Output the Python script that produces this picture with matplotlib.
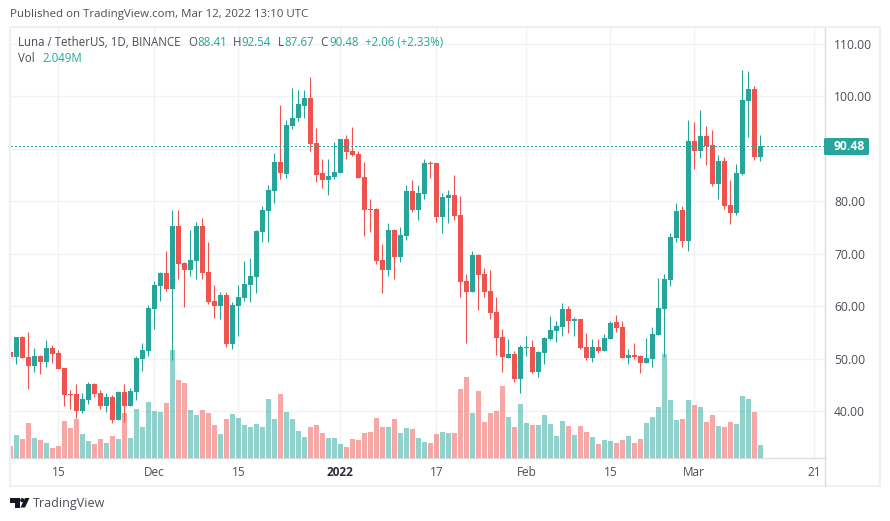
import numpy as np
import pandas as pd
import matplotlib
matplotlib.use("Agg")
import matplotlib.pyplot as plt
from matplotlib.patches import Rectangle, Polygon, Circle, FancyBboxPatch

UP = '#26a69a'
DOWN = '#ef5350'
TXT = '#4a4e57'
GRID = '#f1f2f5'
AXLINE = '#dcdcde'
FRAME = '#eff0f5'

plt.rcParams['font.family'] = ['Open Sans', 'DejaVu Sans']

# open, high, low, close, volume (M) - daily LUNA/USDT
rows = [
(51.3,52.6,49.9,50.3,1.89),(50.35,54.2,49.0,54.16,3.62),(54.16,54.35,50.1,50.16,2.99),(50.35,55.1,44.25,48.6,5.51),
(48.6,52.06,47.5,50.5,3.15),(50.5,50.7,47.1,49.4,2.84),(49.4,53.6,48.4,52.06,2.36),(52.06,52.6,49.2,50.9,1.58),
(51.1,51.7,48.06,48.06,1.89),(48.25,48.25,41.0,43.1,5.83),(43.3,44.06,40.4,43.1,4.73),(43.3,45.2,38.7,40.06,6.14),
(40.06,43.5,39.7,42.35,3.78),(42.16,45.6,41.4,45.2,2.68),(45.2,45.4,42.7,43.3,2.21),(43.5,44.06,40.4,41.0,2.99),
(41.0,43.5,39.9,42.7,2.36),(42.7,43.1,37.8,38.35,3.47),(38.35,43.9,38.35,43.7,2.99),(43.7,45.2,38.0,41.0,7.09),
(41.0,44.4,41.0,43.9,3.15),(43.7,50.5,42.16,50.16,7.72),(50.0,53.0,47.7,51.7,4.88),(51.5,60.25,50.5,59.7,8.82),
(59.5,64.8,55.7,64.06,7.40),(63.9,66.5,61.0,66.35,7.25),(66.35,70.5,62.9,63.3,8.66),(63.3,78.35,49.8,75.3,17.01),
(75.3,78.35,65.2,68.06,12.29),(68.25,68.4,59.9,66.9,11.81),(66.9,74.5,65.8,68.8,7.56),(68.6,76.06,65.2,75.3,6.77),
(75.3,76.8,65.2,66.35,7.56),(66.5,72.25,60.4,60.8,7.09),(61.0,64.06,57.8,60.06,5.20),(60.06,62.7,57.6,62.16,3.78),
(62.16,62.7,52.25,52.8,6.14),(52.8,60.8,51.9,60.25,6.93),(60.06,64.06,54.35,61.8,6.30),(61.6,68.6,61.0,64.25,5.20),
(64.06,69.2,60.8,65.8,4.88),(65.6,74.5,62.5,74.35,5.36),(74.16,79.1,72.25,78.35,4.88),(78.16,83.1,72.25,82.16,9.29),
(82.0,89.2,79.7,87.5,6.14),(87.5,98.35,84.25,85.4,10.08),(85.2,95.5,84.4,94.5,7.25),(94.35,101.6,93.8,95.9,6.14),
(95.9,101.2,95.3,98.5,4.25),(98.2,101.2,95.9,99.7,3.31),(99.7,103.7,89.6,90.9,4.88),(91.1,94.0,83.7,85.0,5.20),
(85.4,88.06,82.5,84.06,3.94),(84.06,88.06,81.2,84.8,3.15),(84.6,91.3,84.25,85.6,3.15),(85.4,91.9,85.4,91.9,2.21),
(91.9,92.6,88.06,89.4,1.73),(89.6,94.2,88.6,88.8,2.99),(89.0,89.6,84.4,84.4,2.84),(84.6,87.5,73.4,78.35,3.94),
(78.5,80.4,74.16,78.35,4.10),(78.5,78.7,68.06,68.6,6.30),(68.8,71.9,62.5,66.9,4.88),(66.9,75.9,65.8,74.5,4.88),
(74.5,74.7,65.2,69.4,6.14),(69.4,75.1,68.4,73.6,3.94),(73.4,83.1,72.6,82.0,4.73),(82.0,84.06,78.0,78.35,4.57),
(78.35,83.1,76.4,81.6,3.15),(81.4,88.06,80.4,87.3,2.52),(87.3,87.7,84.4,87.1,2.36),(87.3,87.3,76.06,77.0,3.78),
(77.0,81.6,74.0,80.8,4.10),(80.6,82.16,75.9,81.2,3.94),(81.2,85.0,76.4,77.2,3.94),(77.4,81.0,61.8,64.6,10.87),
(64.8,66.2,53.0,62.7,12.76),(62.7,70.5,62.7,69.8,7.09),(69.8,70.0,59.3,66.0,10.55),(66.2,67.3,61.8,62.7,5.67),
(62.9,66.9,57.6,58.7,7.09),(58.9,61.8,50.7,54.0,7.40),(54.16,55.7,47.5,50.35,11.34),(50.16,53.8,50.16,50.9,6.46),
(50.9,51.5,45.6,46.16,4.88),(46.16,52.6,43.5,52.25,8.51),(52.06,54.35,50.5,52.25,5.51),(52.25,53.6,47.3,47.5,5.20),
(47.5,51.5,46.5,51.3,5.20),(51.1,54.16,49.0,54.0,6.77),(53.8,58.16,53.6,55.5,5.36),(55.3,57.2,53.2,56.25,3.47),
(56.06,60.6,54.35,59.5,5.83),(59.5,60.06,54.9,57.2,5.04),(57.2,58.0,54.35,57.6,3.62),(57.6,57.6,51.9,52.06,5.04),
(52.25,54.9,49.8,50.16,4.10),(50.16,53.8,49.4,52.25,3.31),(52.25,53.8,51.1,51.5,2.21),(51.5,54.7,51.5,54.0,2.84),
(53.8,57.2,53.8,56.8,2.68),(57.0,58.35,55.1,55.9,2.36),(56.06,57.2,50.16,50.16,2.84),(50.16,51.9,49.0,50.7,3.47),
(50.7,53.0,50.0,50.35,2.36),(50.5,50.7,47.3,49.2,2.99),(49.2,54.0,49.2,50.16,5.51),(50.0,56.06,48.4,54.7,6.46),
(54.5,65.4,54.5,59.7,8.03),(59.5,66.2,50.35,65.2,16.38),(65.0,74.0,63.9,73.2,9.14),(73.0,79.7,72.25,78.16,5.99),
(78.35,79.1,71.3,72.4,6.14),(72.4,95.5,70.5,91.5,9.14),(91.5,95.1,86.2,89.6,8.35),(89.6,97.4,88.25,92.4,8.03),
(92.4,94.35,86.9,90.5,5.67),(90.7,93.6,82.9,83.3,6.77),(83.3,88.8,80.4,87.7,5.04),(87.7,88.4,78.5,79.1,4.88),
(79.3,84.06,75.7,77.8,5.67),(77.8,87.1,77.4,85.4,5.36),(85.2,105.0,85.0,99.3,9.77),(99.1,104.8,92.25,101.4,9.29),
(101.4,102.0,87.9,88.4,7.25),(88.41,92.54,87.67,90.48,2.049),
]
df = pd.DataFrame(rows, columns=['open','high','low','close','vol'])
df['date'] = pd.date_range('2021-11-07', periods=len(df), freq='D')
df['day'] = np.arange(len(df))
start = df['date'][0]

up = df['close'] >= df['open']
cols = np.where(up, UP, DOWN)

W, H = 890, 521
fig = plt.figure(figsize=(W/100, H/100), dpi=100, facecolor='white')
rect = [10.5/W, 1-458/H, 814/W, 430/H]
xlim = (0.03, 135.7)
ylim = (31.1, 113.0)

bg = fig.add_axes(rect, zorder=0)
vol = fig.add_axes(rect, zorder=1)
ax = fig.add_axes(rect, zorder=2)

# grid and tick labels live on the bottom axes
ticks = [('2021-11-15','15'),('2021-12-01','Dec'),('2021-12-15','15'),('2022-01-01','2022'),('2022-01-17','17'),
         ('2022-02-01','Feb'),('2022-02-15','15'),('2022-03-01','Mar'),('2022-03-21','21')]
bg.set_xlim(*xlim)
bg.set_ylim(*ylim)
bg.set_xticks([(pd.Timestamp(d)-start).days for d, _ in ticks])
bg.set_xticklabels([l for _, l in ticks], fontsize=8.5, color=TXT)
bg.get_xticklabels()[3].set_fontweight('bold')
bg.get_xticklabels()[3].set_color('#2a2e39')
levels = np.arange(40, 111, 10)
bg.set_yticks(levels)
# the 90 label sits behind the last price tag in the reference
bg.set_yticklabels(['' if v == 90 else '%.2f' % v for v in levels], fontsize=8.7, color=TXT)
bg.yaxis.tick_right()
bg.tick_params(axis='both', length=0)
bg.tick_params(axis='x', pad=5.6)
bg.tick_params(axis='y', pad=6.8)
bg.grid(True, color=GRID, lw=1.0)
bg.set_axisbelow(True)
for s in ['top', 'left']:
    bg.spines[s].set_visible(False)
for s in ['bottom', 'right']:
    bg.spines[s].set_color(AXLINE)
    bg.spines[s].set_linewidth(1.0)

vol.bar(df['day'], df['vol'], width=0.83, color=cols, alpha=0.5, lw=0)
vol.set_xlim(*xlim)
vol.set_ylim(0, 67.7)
vol.axis('off')

ax.vlines(df['day'], df['low'], df['high'], colors=cols, lw=0.8)
ax.bar(df['day'], (df['close']-df['open']).abs(), bottom=df[['open','close']].min(axis=1), width=0.83, color=cols, lw=0)
last = df['close'].iloc[-1]
ax.axhline(last, color=UP, lw=0.75, ls=(0, (1, 2)), antialiased=False)
ax.set_xlim(*xlim)
ax.set_ylim(*ylim)
ax.axis('off')

# frame, header, price label, logo in pixel coordinates
top = fig.add_axes([0, 0, 1, 1], zorder=5)
top.set_xlim(0, W)
top.set_ylim(H, 0)
top.axis('off')
top.add_patch(Rectangle((10, 27), 870, 459, fill=False, ec=FRAME, lw=1.5))
top.plot([824.5, 824.5], [458, 486], color=AXLINE, lw=1.0)

top.text(10, 15, 'Published on TradingView.com, Mar 12, 2022 13:10 UTC', fontsize=8.25, color=TXT, va='center')
top.text(18, 42, 'Luna / TetherUS, 1D, BINANCE', fontsize=8.3, color=TXT, va='center')
for x, s, c in [(188,'O',TXT),(197.5,'88.41',UP),(233,'H',TXT),(241.7,'92.54',UP),(278.3,'L',TXT),(284.5,'87.67',UP),
                (320.7,'C',TXT),(329,'90.48',UP),(365,'+2.06 (+2.33%)',UP)]:
    top.text(x, 42, s, fontsize=8.3, color=c, va='center')
top.text(18, 59, 'Vol', fontsize=8.3, color=TXT, va='center')
top.text(42, 59, '%.3fM' % df['vol'].iloc[-1], fontsize=8.3, color=UP, va='center')

top.add_patch(FancyBboxPatch((824, 138), 45, 17, boxstyle='round,pad=0,rounding_size=1.5', fc=UP, ec='none'))
top.text(834, 146.6, '%.2f' % last, fontsize=8.7, color='white', fontweight='bold', va='center')

# logo
top.add_patch(Polygon([(10,498),(20,498),(20,507.5),(15,507.5),(15,502.5),(10,502.5)], fc='#131722', ec='none'))
top.add_patch(Circle((22.3,500.2), 2.1, fc='#131722', ec='none'))
top.add_patch(Polygon([(25,498),(29.5,498),(25,507.5),(20.5,507.5)], fc='#131722', ec='none'))
top.text(33, 503.5, 'TradingView', fontsize=9.0, color=TXT, va='center')

fig.savefig('out.png', dpi=100)
